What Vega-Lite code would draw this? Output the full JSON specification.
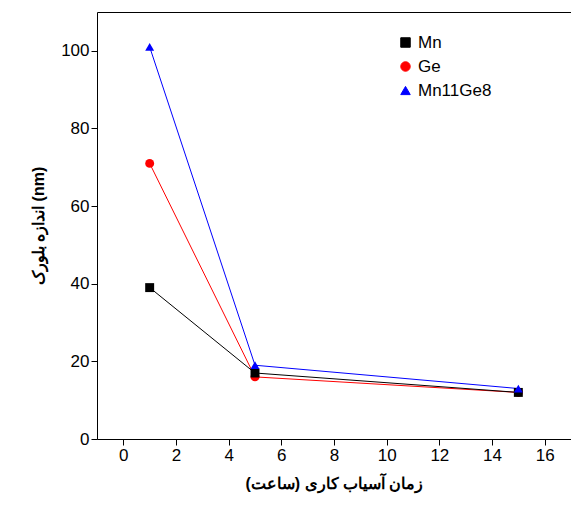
{
  "$schema": "https://vega.github.io/schema/vega-lite/v6.json",
  "width": 474,
  "height": 427,
  "autosize": "none",
  "padding": {"left": 97, "top": 12, "right": 0, "bottom": 78},
  "background": "white",
  "config": {"view": {"stroke": "black", "strokeWidth": 1}, "font": "Liberation Sans"},
  "data": {
    "values": [
      {"t": 1, "size": 71, "s": "Ge"},
      {"t": 5, "size": 16, "s": "Ge"},
      {"t": 15, "size": 12, "s": "Ge"},
      {"t": 1, "size": 39, "s": "Mn"},
      {"t": 5, "size": 17, "s": "Mn"},
      {"t": 15, "size": 12, "s": "Mn"},
      {"t": 1, "size": 101, "s": "Mn11Ge8"},
      {"t": 5, "size": 19, "s": "Mn11Ge8"},
      {"t": 15, "size": 13, "s": "Mn11Ge8"}
    ]
  },
  "encoding": {
    "x": {
      "field": "t", "type": "quantitative",
      "scale": {"domain": [-1, 17], "nice": false},
      "axis": {"values": [0, 2, 4, 6, 8, 10, 12, 14, 16], "grid": false, "domain": false, "tickColor": "black", "tickSize": 6, "labelFontSize": 17, "labelColor": "black", "title": "زمان آسیاب کاری (ساعت)", "titleFontSize": 16, "titleFontWeight": "bold", "titleColor": "black", "titlePadding": 12}
    },
    "y": {
      "field": "size", "type": "quantitative",
      "scale": {"domain": [0, 110], "nice": false},
      "axis": {"values": [0, 20, 40, 60, 80, 100], "grid": false, "domain": false, "tickColor": "black", "tickSize": 6, "labelFontSize": 17, "labelColor": "black", "title": "اندازه بلورک (nm)", "titleFontSize": 16, "titleFontWeight": "bold", "titleColor": "black", "titlePadding": 14}
    },
    "color": {
      "field": "s", "type": "nominal",
      "scale": {"domain": ["Mn", "Ge", "Mn11Ge8"], "range": ["black", "red", "blue"]},
      "legend": {"orient": "none", "legendX": 300, "legendY": 22, "title": null, "labelFontSize": 17, "labelColor": "black", "symbolSize": 90, "rowPadding": 6, "symbolStrokeWidth": 1}
    },
    "shape": {
      "field": "s", "type": "nominal",
      "scale": {"domain": ["Mn", "Ge", "Mn11Ge8"], "range": ["square", "circle", "triangle-up"]},
      "legend": null
    }
  },
  "layer": [
    {"mark": {"type": "line", "strokeWidth": 1}},
    {"mark": {"type": "point", "filled": true, "size": 80, "opacity": 1}}
  ]
}
